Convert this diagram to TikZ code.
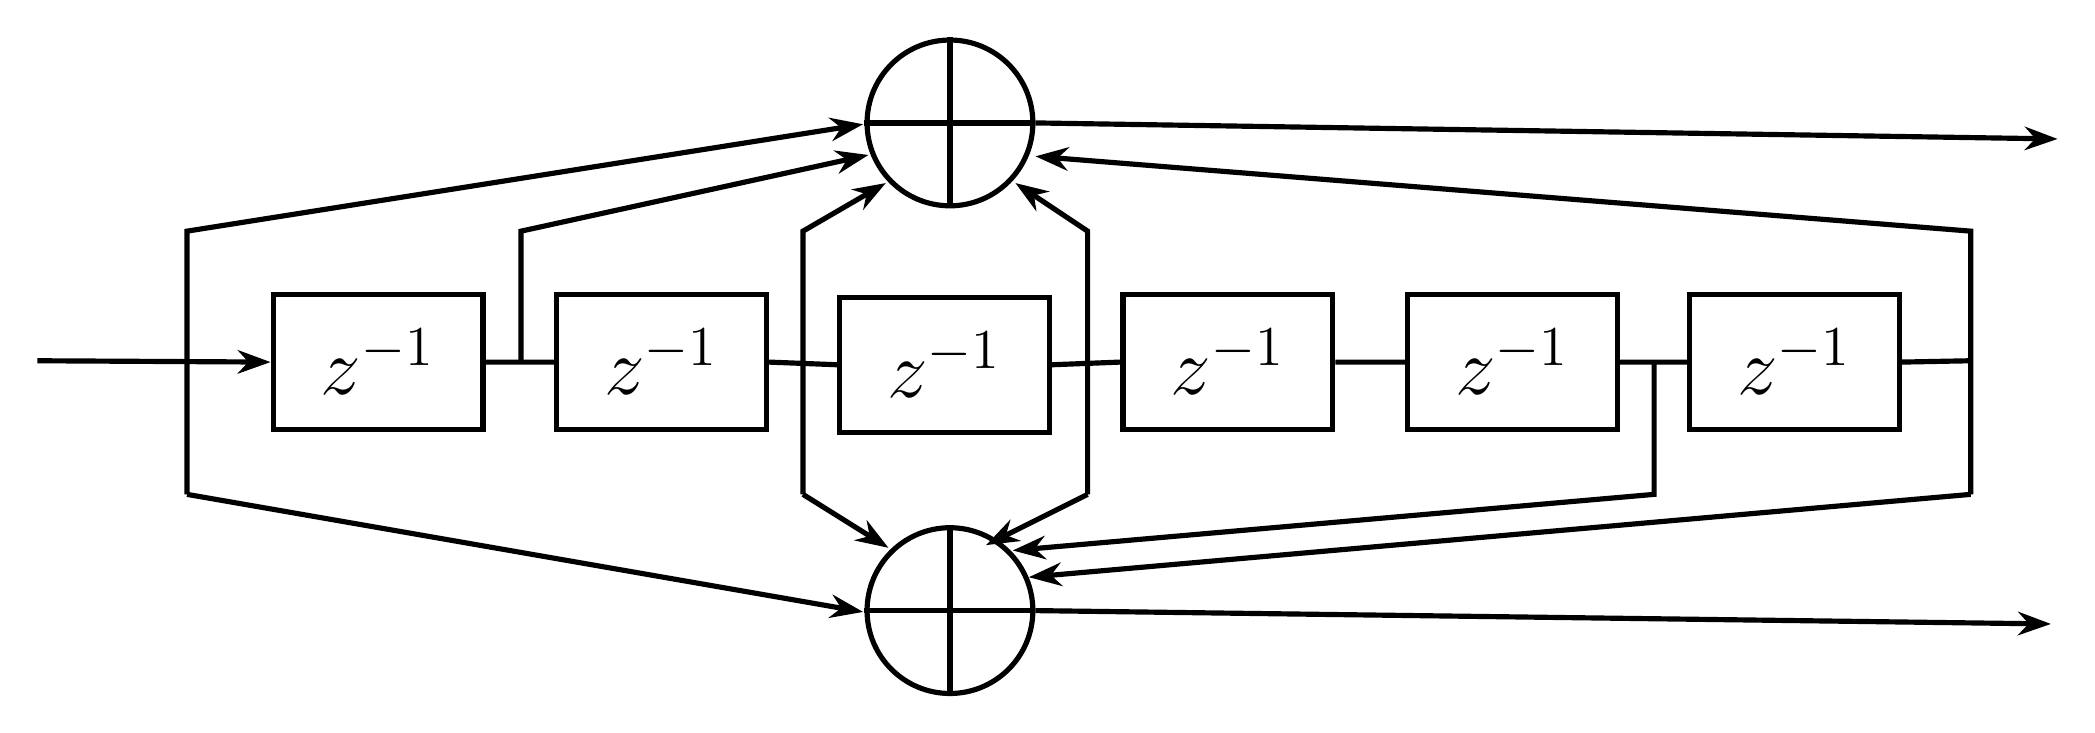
\documentclass[tikz,border=0pt]{standalone}
\usetikzlibrary{arrows.meta}
\begin{document}
\begin{tikzpicture}[x=0.01cm,y=-0.01cm,line width=1.1pt,
  box/.style={draw,minimum width=1.57cm,minimum height=1.01cm,inner sep=0pt,font=\LARGE},
  sum/.style={draw,circle,minimum size=1.24cm,inner sep=0pt},
  arr/.style={-{Stealth[length=7pt,width=5pt]}}]
\useasboundingbox (0,0) rectangle (1568,548);
\node[box] (b1) at (283,271) {$z^{-1}$};
\node[box] (b2) at (495,271) {$z^{-1}$};
\node[box] (b3) at (707,273) {$z^{-1}$};
\node[box] (b4) at (919,271) {$z^{-1}$};
\node[box] (b5) at (1132,271) {$z^{-1}$};
\node[box] (b6) at (1343,271) {$z^{-1}$};
\node[sum] (s1) at (711,92) {};
\node[sum] (s2) at (711,457) {};
\draw (s1.north)--(s1.south) (s1.west)--(s1.east);
\draw (s2.north)--(s2.south) (s2.west)--(s2.east);
\coordinate (in) at (28,270);
\coordinate (o1) at (1540,104);
\coordinate (o2) at (1535,467);
\draw[arr] (in)--(b1.west);
\draw (b1.east)--(b2.west) (b2.east)--(b3.west) (b3.east)--(b4.west) (b4.east)--(b5.west) (b5.east)--(b6.west) (b6.east)--(1475,270);
% left
\draw[arr] (140,370)--(140,173)--(646,93);
\draw[arr] (140,370)--(646,458);
% tap 1
\draw[arr] (390,270)--(390,173)--(650,116);
% tap 2
\draw[arr] (601,370)--(601,173)--(663,137);
\draw[arr] (601,370)--(665,410);
% tap 3
\draw[arr] (814,370)--(814,173)--(760,137);
\draw[arr] (814,370)--(738,408);
% tap 5
\draw[arr] (1238,270)--(1238,370)--(758,412);
% right
\draw[arr] (1475,370)--(1475,173)--(775,117);
\draw[arr] (1475,370)--(770,432);
% outputs
\draw[arr] (s1.east)--(o1);
\draw[arr] (s2.east)--(o2);
\end{tikzpicture}
\end{document}
